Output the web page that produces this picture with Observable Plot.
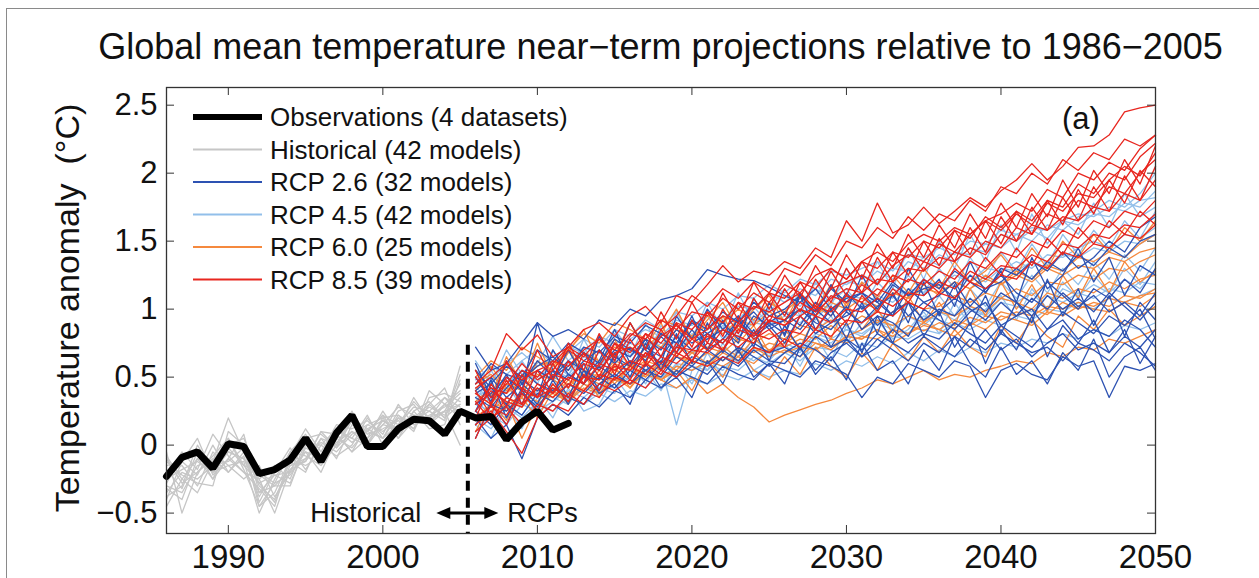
<!DOCTYPE html>
<html><head><meta charset="utf-8">
<script src="https://cdn.jsdelivr.net/npm/d3@7"></script>
<script src="https://cdn.jsdelivr.net/npm/@observablehq/plot@0.6"></script>
<style>
html,body{margin:0;padding:0;background:#fff;}
#wrap{position:relative;width:1259px;height:578px;overflow:hidden;font-family:"Liberation Sans",Arial,sans-serif;}
#border{position:absolute;left:6px;top:8px;width:1400px;height:800px;border-left:1.5px solid #8a8a8a;border-top:1.5px solid #8a8a8a;}
#title{position:absolute;left:31px;top:29px;width:1259px;text-align:center;font-size:36px;line-height:36px;color:#111;white-space:nowrap;}
#chart{position:absolute;left:0;top:72px;}
</style></head>
<body>
<div id="wrap"><div id="border"></div>
<div id="title">Global mean temperature near−term projections relative to 1986−2005</div>
<div id="chart"></div></div>
<script>
// ---- data ----
const histStart = 1986;
const rcpStart = 2006;
const xTicks = [1990, 2000, 2010, 2020, 2030, 2040, 2050];
const yTicks = [-0.5, 0, 0.5, 1, 1.5, 2, 2.5];
const legendLabels = ["Observations (4 datasets)", "Historical (42 models)", "RCP 2.6 (32 models)", "RCP 4.5 (42 models)", "RCP 6.0 (25 models)", "RCP 8.5 (39 models)"];
const dividerYear = 2005.5;

const observations = [-0.23,-0.09,-0.05,-0.17,0.01,-0.01,-0.21,-0.18,-0.11,0.05,-0.12,0.09,0.22,-0.01,-0.01,0.12,0.19,0.18,0.08,0.25,0.20,0.21,0.04,0.17,0.25,0.11,0.16];

const historical = [
 [-0.25,-0.18,-0.12,-0.2,-0.05,-0.1,-0.35,-0.3,-0.18,-0.05,-0.1,0.02,0.1,0.05,0.15,0.12,0.22,0.2,0.3,0.25],
 [-0.1,-0.28,-0.2,-0.08,0.05,-0.15,-0.28,-0.22,-0.2,-0.1,0.02,-0.05,0.08,0.15,0.1,0.2,0.18,0.28,0.22,0.35],
 [-0.35,-0.2,-0.25,-0.15,-0.12,-0.02,-0.45,-0.35,-0.1,-0.15,-0.08,0.05,-0.02,0.12,0.18,0.1,0.25,0.32,0.2,0.3],
 [-0.15,-0.12,0.05,-0.22,-0.1,-0.2,-0.25,-0.15,-0.25,0.02,-0.12,0.1,0.05,0.0,0.2,0.22,0.15,0.2,0.35,0.28],
 [-0.3,-0.35,-0.15,-0.12,0.2,-0.05,-0.3,-0.4,-0.12,-0.2,0.05,-0.1,0.15,0.1,0.05,0.25,0.3,0.15,0.25,0.45],
 [-0.2,-0.15,-0.3,-0.05,-0.15,-0.12,-0.5,-0.25,-0.05,-0.08,-0.15,0.0,0.2,0.08,0.12,0.18,0.12,0.4,0.3,0.2],
 [-0.45,-0.25,-0.1,-0.25,0.0,0.05,-0.22,-0.3,-0.3,0.0,0.0,-0.08,0.0,0.2,0.05,0.15,0.28,0.25,0.18,0.58],
 [-0.05,-0.5,-0.2,-0.1,-0.2,-0.08,-0.38,-0.18,-0.15,-0.12,0.1,0.08,-0.05,0.05,0.25,0.08,0.2,0.3,0.42,0.15],
 [-0.22,-0.05,-0.18,0.08,-0.08,-0.2,-0.32,-0.45,-0.08,0.12,-0.05,0.15,0.12,0.18,0.08,0.3,0.15,0.22,0.28,0.38],
 [-0.38,-0.3,0.0,-0.18,-0.02,-0.15,-0.2,-0.28,-0.22,-0.05,-0.2,0.05,0.25,0.02,0.18,0.12,0.35,0.18,0.25,0.0],
 [-0.12,-0.22,-0.28,-0.3,0.1,0.0,-0.42,-0.2,-0.02,-0.18,0.0,0.12,0.05,0.22,0.0,0.2,0.1,0.35,0.38,0.32],
 [-0.28,-0.08,-0.08,-0.2,-0.15,-0.25,-0.15,-0.38,-0.2,0.05,0.08,-0.02,0.18,0.1,0.22,0.05,0.25,0.12,0.15,0.48],
 [-0.18,-0.32,-0.05,-0.25,-0.1,0.08,-0.35,-0.22,-0.28,-0.02,-0.08,0.08,-0.05,0.15,0.2,0.05,0.18,0.25,0.35,0.22],
 [-0.4,-0.12,-0.22,0.0,-0.2,-0.05,-0.28,-0.42,-0.15,-0.1,0.1,-0.02,0.1,0.0,0.15,0.28,0.22,0.15,0.3,0.4],
 [-0.08,-0.25,-0.35,-0.12,0.05,-0.18,-0.45,-0.28,-0.05,0.08,-0.1,0.12,0.02,0.1,0.22,0.15,0.32,0.2,0.25,0.3],
 [-0.32,-0.4,-0.1,-0.15,-0.05,-0.1,-0.25,-0.5,-0.18,-0.12,0.05,0.0,0.2,0.12,0.05,0.22,0.12,0.3,0.2,0.52]
];

const rcp26 = [
 [0.72,0.55,0.6,0.75,0.9, 0.8,0.85,0.78,0.92,0.88, 1.0,0.95,1.07,1.1,1.15, 1.29,1.25,1.22,1.21,1.16, 1.1,1.05,1.15,1.0,1.08, 1.12,1.05,1.2,1.1,1.15, 1.18,1.08,1.25,1.15,1.2, 1.3,1.22,1.35,1.28,1.4, 1.32,1.45,1.38,1.5,1.55],
 [0.2,0.05,0.15,-0.1,0.2, 0.3,0.22,0.35,0.28,0.4, 0.35,0.48,0.42,0.55,0.5, 0.45,0.58,0.52,0.48,0.6, 0.55,0.5,0.62,0.58,0.52, 0.35,0.5,0.45,0.6,0.55, 0.5,0.62,0.58,0.35,0.55, 0.6,0.52,0.48,0.65,0.58, 0.62,0.35,0.58,0.55,0.6],
 [0.4,0.5,0.35,0.45,0.62, 0.5,0.58,0.68,0.55,0.7, 0.65,0.78,0.7,0.85,0.75, 0.82,0.9,0.78,0.95,0.88, 0.92,0.85,1.0,0.9,0.95, 1.02,0.88,0.98,1.05,0.92, 1.0,0.95,1.08,0.98,1.12, 1.05,0.95,1.1,1.0,1.08, 0.98,1.12,1.02,0.92,1.05],
 [0.3,0.38,0.5,0.4,0.9, 0.55,0.48,0.62,0.7,0.6, 0.72,0.62,0.8,0.68,0.85, 0.7,0.78,0.92,0.8,0.88, 0.75,0.95,0.82,0.9,1.02, 0.85,0.95,0.9,0.8,1.0, 0.92,0.85,0.98,1.05,0.88, 0.95,1.0,0.85,0.98,0.9, 0.82,0.95,0.88,1.0,0.78],
 [0.25,0.15,0.3,0.22,0.38, 0.32,0.45,0.38,0.5,0.42, 0.55,0.48,0.6,0.52,0.65, 0.6,0.7,0.62,0.75,0.68, 0.72,0.65,0.8,0.72,0.78, 0.7,0.82,0.75,0.68,0.8, 0.72,0.65,0.78,0.7,0.82, 0.75,0.68,0.72,0.62,0.75, 0.7,0.62,0.75,0.68,0.58],
 [0.45,0.6,0.52,0.48,0.58, 0.65,0.55,0.72,0.68,0.8, 0.75,0.88,0.82,0.75,0.92, 0.85,0.98,0.9,1.05,0.95, 1.0,1.1,0.98,1.15,1.05, 1.12,1.0,1.18,1.1,1.22, 1.15,1.28,1.2,1.12,1.3, 1.25,1.35,1.28,1.42,1.3, 1.38,1.5,1.42,1.6,1.68],
 [0.35,0.28,0.42,0.55,0.45, 0.4,0.52,0.45,0.58,0.5, 0.62,0.55,0.5,0.65,0.58, 0.7,0.62,0.72,0.65,0.58, 0.68,0.75,0.7,0.62,0.78, 0.65,0.72,0.85,0.75,0.82, 0.78,0.9,0.82,0.75,0.88, 0.8,0.72,0.85,0.92,0.78, 0.85,0.8,0.92,0.85,0.72],
 [0.55,0.42,0.3,0.48,0.4, 0.5,0.62,0.55,0.48,0.65, 0.58,0.72,0.65,0.8,0.7, 0.78,0.85,0.95,0.82,0.9, 0.98,0.88,1.05,0.95,1.12, 1.0,1.08,0.95,1.15,1.05, 1.1,1.2,1.02,1.15,1.25, 1.12,1.05,1.2,1.1,1.0, 1.15,1.08,1.22,1.12,1.3],
 [0.15,0.3,0.25,0.38,0.28, 0.42,0.35,0.3,0.45,0.52, 0.45,0.55,0.62,0.5,0.58, 0.52,0.65,0.58,0.7,0.62, 0.6,0.72,0.55,0.68,0.75, 0.65,0.78,0.7,0.62,0.75, 0.68,0.8,0.72,0.85,0.7, 0.78,0.65,0.75,0.82,0.7, 0.75,0.68,0.8,0.72,0.85],
 [0.38,0.45,0.58,0.5,0.7, 0.62,0.75,0.68,0.6,0.78, 0.7,0.65,0.82,0.75,0.9, 0.82,0.75,0.88,0.98,0.85, 0.92,1.0,0.9,0.85,0.98, 0.9,1.02,1.1,0.95,1.05, 0.98,1.08,1.0,0.92,1.05, 0.95,1.08,1.0,1.12,1.02, 1.1,0.98,1.05,0.95,1.12],
 [0.6,0.35,0.52,0.3,0.55, 0.48,0.7,0.5,0.62,0.85, 0.6,0.78,0.55,0.72,0.95, 0.7,0.92,0.68,0.85,0.62, 0.88,0.7,0.95,0.72,0.9, 0.68,0.95,0.75,1.05,0.8, 0.98,0.72,0.9,0.6,0.85, 0.7,0.95,0.65,0.88,0.75, 0.92,0.68,0.85,0.6,0.8],
 [0.25,0.48,0.2,0.42,0.3, 0.55,0.35,0.6,0.4,0.68, 0.5,0.75,0.55,0.82,0.6, 0.9,0.68,0.95,0.72,1.05, 0.8,1.1,0.85,1.0,0.78, 1.05,0.82,1.12,0.9,1.2, 0.95,1.18,0.88,1.1,0.82, 1.05,0.9,1.22,0.95,1.15, 0.88,1.1,0.8,1.05,0.92],
 [0.05,0.3,0.15,0.4,0.25, 0.48,0.3,0.55,0.38,0.45, 0.3,0.6,0.42,0.5,0.35, 0.62,0.45,0.7,0.5,0.6, 0.45,0.72,0.52,0.65,0.48, 0.75,0.55,0.62,0.45,0.7, 0.55,0.8,0.6,0.5,0.72, 0.52,0.62,0.45,0.68,0.55, 0.78,0.5,0.65,0.72,0.55],
 [0.5,0.32,0.62,0.45,0.35, 0.7,0.52,0.45,0.8,0.62, 0.9,0.7,0.6,0.95,0.78, 1.0,0.85,0.75,1.08,0.9, 0.82,1.12,0.95,1.18,0.98, 1.25,1.05,0.95,1.3,1.1, 1.22,1.02,1.35,1.12,1.28, 1.05,1.38,1.15,1.25,1.45, 1.2,1.38,1.1,1.32,1.25]
];

const rcp45 = [
 [0.4,0.32,0.5,0.45,0.55, 0.48,0.6,0.55,0.68,0.62, 0.75,0.7,0.82,0.78,0.9, 0.85,0.95,0.92,1.05,0.98, 1.1,1.02,1.15,1.08,1.2, 1.18,1.28,1.22,1.35,1.3, 1.4,1.35,1.45,1.42,1.55, 1.5,1.58,1.52,1.65,1.62, 1.7,1.68,1.78,1.75,1.87],
 [0.25,0.35,0.3,0.22,0.38, 0.35,0.3,0.45,0.4,0.52, 0.48,0.42,0.58,0.15,0.55, 0.6,0.55,0.68,0.62,0.7, 0.72,0.68,0.8,0.75,0.85, 0.82,0.9,0.85,0.95,0.88, 0.98,0.92,1.02,0.96,1.08, 1.05,1.12,1.0,1.15,1.1, 1.18,1.12,1.22,1.15,1.28],
 [0.55,0.48,0.6,0.68,0.58, 0.65,0.72,0.68,0.8,0.75, 0.78,0.85,0.8,0.92,0.88, 0.95,0.9,1.02,1.0,1.12, 1.05,1.15,1.1,1.22,1.18, 1.25,1.2,1.3,1.28,1.38, 1.32,1.42,1.4,1.48,1.45, 1.55,1.5,1.62,1.58,1.68, 1.72,1.8,1.75,1.85,2.0],
 [0.1,0.22,0.15,0.3,0.25, 0.32,0.4,0.35,0.45,0.42, 0.5,0.55,0.48,0.6,0.58, 0.55,0.65,0.62,0.7,0.68, 0.75,0.7,0.82,0.78,0.85, 0.8,0.9,0.88,0.82,0.95, 0.92,0.88,1.0,0.95,1.05, 1.02,0.98,1.1,1.05,1.12, 1.08,1.15,1.12,1.2,1.18],
 [0.35,0.42,0.38,0.52,0.48, 0.55,0.5,0.62,0.58,0.7, 0.65,0.75,0.72,0.68,0.8, 0.78,0.85,0.8,0.9,0.88, 0.95,0.9,1.0,0.98,1.08, 1.02,1.1,1.05,1.15,1.12, 1.2,1.15,1.25,1.2,1.3, 1.28,1.35,1.3,1.4,1.38, 1.45,1.42,1.5,1.48,1.55],
 [0.3,0.25,0.2,0.35,0.3, 0.4,0.35,0.3,0.42,0.48, 0.45,0.52,0.5,0.58,0.55, 0.62,0.58,0.55,0.65,0.6, 0.68,0.62,0.72,0.7,0.65, 0.75,0.72,0.8,0.78,0.85, 0.82,0.9,0.85,0.92,0.88, 0.95,0.92,1.0,0.98,1.05, 1.0,1.08,1.05,1.1,1.15],
 [0.48,0.58,0.52,0.62,0.7, 0.6,0.68,0.78,0.72,0.85, 0.8,0.92,0.85,0.98,0.95, 1.05,1.0,1.1,1.08,1.18, 1.12,1.22,1.18,1.28,1.25, 1.3,1.35,1.28,1.4,1.38, 1.45,1.4,1.5,1.48,1.58, 1.55,1.6,1.58,1.65,1.7, 1.68,1.75,1.72,1.8,1.82],
 [0.2,0.12,0.28,0.2,0.32, 0.25,0.35,0.3,0.38,0.32, 0.4,0.36,0.45,0.42,0.48, 0.45,0.52,0.48,0.55,0.5, 0.55,0.52,0.6,0.55,0.62, 0.58,0.65,0.6,0.68,0.62, 0.7,0.65,0.72,0.68,0.75, 0.72,0.78,0.75,0.82,0.78, 0.85,0.8,0.88,0.85,0.9],
 [0.42,0.35,0.45,0.55,0.5, 0.58,0.52,0.65,0.6,0.55, 0.7,0.65,0.75,0.72,0.82, 0.78,0.88,0.82,0.92,0.9, 0.98,0.95,1.05,1.0,1.1, 1.08,1.02,1.15,1.1,1.2, 1.18,1.25,1.2,1.3,1.28, 1.35,1.3,1.4,1.38,1.45, 1.5,1.45,1.55,1.52,1.6],
 [0.3,0.55,0.38,0.62,0.45, 0.7,0.5,0.78,0.58,0.82, 0.65,0.9,0.7,0.98,0.78, 1.05,0.85,1.12,0.9,1.0, 1.15,0.95,1.2,1.02,1.3, 1.1,1.35,1.15,1.45,1.22, 1.5,1.3,1.55,1.35,1.62, 1.42,1.7,1.48,1.65,1.55, 1.78,1.6,1.85,1.68,1.75],
 [0.15,0.05,0.28,0.12,0.35, 0.2,0.42,0.25,0.3,0.5, 0.35,0.55,0.4,0.6,0.45, 0.68,0.5,0.72,0.55,0.62, 0.75,0.58,0.8,0.62,0.88, 0.7,0.92,0.78,0.85,0.98, 0.82,1.05,0.88,1.0,1.1, 0.92,1.15,1.0,1.2,1.08, 1.25,1.12,1.3,1.18,1.35],
 [0.62,0.45,0.7,0.52,0.6, 0.8,0.62,0.72,0.55,0.85, 0.7,0.62,0.88,0.72,0.8, 0.95,0.78,0.85,1.02,0.88, 0.98,1.12,0.92,1.05,1.15, 1.0,1.2,1.08,1.25,1.12, 1.3,1.15,1.38,1.22,1.42, 1.28,1.48,1.32,1.55,1.4, 1.58,1.45,1.65,1.52,1.72],
 [0.35,0.2,0.45,0.28,0.4, 0.5,0.32,0.55,0.42,0.38, 0.6,0.45,0.65,0.5,0.7, 0.55,0.75,0.6,0.8,0.65, 0.88,0.7,0.82,0.95,0.75, 0.9,1.0,0.85,1.05,0.92, 1.1,0.95,1.15,1.02,1.2, 1.08,1.25,1.12,1.3,1.18, 1.35,1.22,1.4,1.28,1.45]
];

const rcp60 = [
 [0.3,0.38,0.25,0.35,0.2, 0.4,0.32,0.45,0.38,0.5, 0.42,0.55,0.48,0.42,0.5, 0.38,0.45,0.35,0.28,0.17, 0.22,0.26,0.3,0.33,0.38, 0.42,0.48,0.45,0.5,0.55, 0.48,0.52,0.5,0.55,0.58, 0.62,0.6,0.68,0.65,0.72, 0.7,0.78,0.75,0.8,0.85],
 [0.5,0.62,0.55,0.72,0.65, 0.58,0.7,0.82,0.75,0.9, 0.85,0.78,0.92,0.88,0.8, 0.95,0.9,1.0,0.92,1.05, 0.98,1.08,1.02,0.95,1.1, 1.05,1.0,1.12,1.08,1.18, 1.1,1.2,1.15,1.25,1.18, 1.28,1.22,1.32,1.28,1.38, 1.35,1.42,1.38,1.48,1.55],
 [0.15,0.25,0.35,0.28,0.42, 0.35,0.48,0.4,0.55,0.45, 0.58,0.5,0.62,0.55,0.68, 0.6,0.72,0.65,0.78,0.7, 0.75,0.82,0.78,0.88,0.8, 0.85,0.92,0.88,0.95,0.9, 0.98,0.95,1.02,0.98,1.08, 1.05,1.0,1.12,1.08,1.15, 1.12,1.2,1.15,1.22,1.25],
 [0.38,0.3,0.45,0.4,0.52, 0.48,0.42,0.55,0.5,0.62, 0.58,0.65,0.6,0.72,0.68, 0.72,0.68,0.78,0.75,0.82, 0.78,0.88,0.85,0.92,0.88, 0.95,0.9,0.98,1.05,1.0, 1.02,1.1,1.05,1.12,1.08, 1.15,1.1,1.2,1.18,1.25, 1.22,1.3,1.28,1.35,1.4],
 [0.25,0.18,0.32,0.05,0.3, 0.38,0.32,0.42,0.38,0.48, 0.45,0.52,0.48,0.58,0.55, 0.62,0.58,0.65,0.6,0.7, 0.68,0.72,0.7,0.78,0.75, 0.8,0.78,0.85,0.82,0.88, 0.85,0.92,0.88,0.95,0.92, 0.98,0.95,1.02,1.0,1.05, 1.02,1.08,1.05,1.1,1.12],
 [0.45,0.52,0.4,0.5,0.58, 0.62,0.55,0.68,0.62,0.72, 0.7,0.78,0.72,0.85,0.8, 0.88,0.82,0.92,0.88,0.98, 0.92,1.0,0.95,1.05,1.0, 1.08,1.02,1.12,1.08,1.15, 1.12,1.2,1.15,1.22,1.18, 1.25,1.2,1.3,1.25,1.32, 1.3,1.38,1.35,1.42,1.45],
 [0.32,0.42,0.38,0.48,0.4, 0.5,0.45,0.52,0.48,0.6, 0.55,0.62,0.58,0.65,0.6, 0.68,0.62,0.72,0.68,0.75, 0.72,0.78,0.75,0.7,0.8, 0.78,0.85,0.8,0.88,0.84, 0.9,0.86,0.94,0.9,0.98, 0.95,1.0,0.96,1.05,1.0, 1.05,1.02,1.1,1.08,1.15],
 [0.2,0.3,0.28,0.38,0.32, 0.42,0.38,0.5,0.45,0.55, 0.5,0.6,0.55,0.65,0.62, 0.58,0.68,0.62,0.72,0.65, 0.7,0.65,0.75,0.72,0.8, 0.78,0.85,0.75,0.82,0.9, 0.85,0.8,0.9,0.85,0.95, 0.92,0.88,0.98,0.95,1.02, 1.0,0.98,1.05,1.02,1.1],
 [0.55,0.35,0.65,0.45,0.75, 0.5,0.68,0.85,0.6,0.78, 0.55,0.72,0.9,0.65,0.8, 0.7,0.95,0.75,0.88,0.68, 0.85,0.72,0.95,0.78,1.05, 0.85,1.0,0.82,1.1,0.9, 1.05,0.88,1.15,0.95,1.2, 1.0,1.18,0.98,1.25,1.08, 1.3,1.12,1.35,1.2,1.28],
 [0.1,0.32,0.18,0.4,0.25, 0.45,0.3,0.52,0.35,0.58, 0.42,0.62,0.48,0.55,0.4, 0.62,0.5,0.7,0.55,0.48, 0.65,0.52,0.72,0.58,0.5, 0.68,0.55,0.75,0.62,0.8, 0.68,0.85,0.72,0.65,0.88, 0.75,0.92,0.8,0.72,0.95, 0.85,1.0,0.88,0.95,1.02],
 [0.4,0.58,0.42,0.35,0.62, 0.55,0.72,0.5,0.8,0.65, 0.9,0.72,0.82,1.0,0.78, 0.92,1.05,0.85,1.0,1.1, 0.9,1.12,1.0,1.18,1.02, 1.2,1.08,1.25,1.12,1.3, 1.15,1.35,1.2,1.28,1.4, 1.25,1.45,1.3,1.5,1.38, 1.55,1.42,1.6,1.5,1.65]
];

const rcp85 = [
 [0.45,0.55,0.82,0.7,0.81, 0.65,0.72,0.85,0.9,0.8, 0.95,1.02,0.9,1.1,1.05, 1.18,1.32,1.2,1.28,1.25, 1.35,1.3,1.45,1.38,1.65, 1.5,1.78,1.56,1.62,1.75, 1.63,1.72,1.82,1.75,1.87, 1.95,2.07,1.95,2.05,2.19, 2.2,2.28,2.45,2.48,2.5],
 [0.3,0.42,0.38,0.55,0.5, 0.62,0.58,0.7,0.78,0.65, 0.8,0.9,0.85,0.95,1.1, 1.02,1.15,1.08,1.2,1.12, 1.3,1.25,1.4,1.32,1.5, 1.45,1.6,1.52,1.68,1.58, 1.7,1.65,1.8,1.72,1.9, 1.85,2.0,1.92,2.1,2.02, 2.15,2.1,2.25,2.2,2.28],
 [0.15,0.25,0.1,-0.06,0.2, 0.3,0.25,0.4,0.35,0.5, 0.45,0.6,0.52,0.68,0.62, 0.75,0.7,0.85,0.8,0.92, 0.88,1.0,0.95,1.1,1.05, 1.18,1.1,1.25,1.2,1.35, 1.3,1.42,1.38,1.5,1.45, 1.6,1.55,1.7,1.65,1.8, 1.75,1.9,1.85,2.0,2.1],
 [0.5,0.35,0.45,0.6,0.48, 0.55,0.7,0.62,0.58,0.75, 0.68,0.82,0.75,0.9,0.85, 0.98,0.9,1.05,1.0,1.12, 1.08,1.2,1.15,1.3,1.22, 1.35,1.3,1.42,1.38,1.5, 1.45,1.58,1.52,1.68,1.6, 1.72,1.65,1.8,1.75,1.92, 1.85,2.0,1.95,2.12,2.22],
 [0.25,0.4,0.32,0.28,0.45, 0.38,0.5,0.45,0.6,0.55, 0.62,0.58,0.72,0.65,0.78, 0.7,0.85,0.8,0.75,0.92, 0.88,0.95,1.02,0.98,1.1, 1.05,1.15,1.1,1.22,1.18, 1.28,1.22,1.35,1.3,1.42, 1.38,1.5,1.45,1.58,1.52, 1.65,1.6,1.72,1.68,1.8],
 [0.1,0.2,0.28,0.15,0.3, 0.25,0.38,0.3,0.45,0.4, 0.48,0.42,0.55,0.5,0.62, 0.58,0.65,0.6,0.72,0.68, 0.78,0.72,0.85,0.8,0.92, 0.9,0.98,0.95,1.05,1.0, 1.12,1.08,1.2,1.15,1.25, 1.22,1.35,1.3,1.42,1.38, 1.48,1.45,1.55,1.52,1.62],
 [0.38,0.3,0.5,0.42,0.35, 0.52,0.48,0.6,0.55,0.68, 0.72,0.65,0.8,0.88,0.78, 0.85,0.95,0.9,1.02,0.98, 1.05,1.12,1.0,1.15,1.2, 1.25,1.18,1.32,1.4,1.35, 1.48,1.42,1.55,1.65,1.58, 1.7,1.62,1.78,1.72,1.85, 1.82,1.95,2.05,1.98,2.15],
 [0.2,0.28,0.22,0.4,0.35, 0.42,0.35,0.5,0.48,0.58, 0.55,0.68,0.6,0.72,0.7, 0.8,0.75,0.88,0.82,0.95, 0.92,1.05,0.98,1.08,1.15, 1.12,1.22,1.2,1.3,1.28, 1.38,1.35,1.45,1.4,1.55, 1.5,1.62,1.58,1.68,1.65, 1.75,1.72,1.85,1.8,1.95],
 [0.42,0.5,0.6,0.48,0.55, 0.6,0.72,0.65,0.78,0.7, 0.82,0.78,0.92,0.85,0.98, 0.95,1.08,1.0,1.12,1.05, 1.18,1.12,1.25,1.3,1.22, 1.35,1.42,1.35,1.48,1.55, 1.5,1.6,1.55,1.65,1.7, 1.78,1.72,1.88,1.82,2.0, 1.95,2.08,2.02,2.18,2.28],
 [0.32,0.18,0.35,0.3,0.42, 0.35,0.45,0.4,0.52,0.48, 0.58,0.52,0.65,0.6,0.7, 0.68,0.78,0.72,0.82,0.78, 0.85,0.82,0.95,0.9,1.0, 0.98,1.08,1.02,1.12,1.1, 1.2,1.15,1.28,1.22,1.32, 1.3,1.4,1.35,1.48,1.45, 1.55,1.52,1.62,1.6,1.7],
 [0.55,0.3,0.62,0.4,0.7, 0.48,0.75,0.55,0.82,0.62, 0.9,0.7,0.98,0.78,1.05, 0.85,1.12,0.92,1.2,1.0, 1.25,1.08,1.32,1.15,1.4, 1.22,1.48,1.3,1.55,1.38, 1.62,1.45,1.7,1.52,1.78, 1.6,1.85,1.68,1.95,1.75, 2.02,1.85,2.1,1.92,2.2],
 [0.2,0.45,0.28,0.52,0.35, 0.6,0.42,0.68,0.5,0.75, 0.58,0.82,0.65,0.9,0.72, 0.98,0.8,1.05,0.88,1.12, 0.95,1.2,1.02,1.28,1.1, 1.35,1.18,1.42,1.25,1.5, 1.32,1.58,1.4,1.65,1.48, 1.72,1.55,1.8,1.62,1.88, 1.7,1.95,1.78,2.02,1.9],
 [0.4,0.22,0.48,0.3,0.55, 0.38,0.62,0.45,0.7,0.52, 0.78,0.6,0.85,0.68,0.92, 0.75,1.0,0.82,1.08,0.9, 1.15,0.98,1.22,1.05,1.3, 1.12,1.38,1.2,1.45,1.28, 1.52,1.35,1.6,1.42,1.68, 1.5,1.75,1.58,1.82,1.65, 1.9,1.72,1.98,1.8,2.05],
 [0.05,0.3,0.15,0.38,0.25, 0.45,0.32,0.52,0.4,0.6, 0.48,0.68,0.55,0.75,0.62, 0.82,0.7,0.9,0.78,0.85, 0.72,0.95,0.85,1.02,0.9, 1.1,0.98,1.15,1.05,1.22, 1.12,1.3,1.2,1.38,1.25, 1.45,1.32,1.52,1.4,1.6, 1.48,1.65,1.55,1.72,1.62]
];

const colors = {obs: "#000000", hist: "#c6c6c6", rcp26: "#2d52b2", rcp45: "#92bfea", rcp60: "#f5893e", rcp85: "#e8261f"};

// ---- build tables ----
function toRows(series, start, group) {
  const out = [];
  series.forEach((arr, k) => arr.forEach((v, i) => out.push({id: group + "-" + k, year: start + i, value: v})));
  return out;
}
const histRows = toRows(historical, histStart, "hist");
const r26 = toRows(rcp26, rcpStart, "r26");
const r45 = toRows(rcp45, rcpStart, "r45");
const r60 = toRows(rcp60, rcpStart, "r60");
const r85 = toRows(rcp85, rcpStart, "r85");
const obsRows = observations.map((v, i) => ({year: histStart + i, value: v}));

const W = 1259, H = 506, mL = 166, mR = 104, mT = 15, mB = 45;
const pw = W - mL - mR, ph = H - mT - mB;
const lw = 1.3;
const fmt = d => (d < 0 ? "\u2212" : "") + Math.abs(d);

const chart = Plot.plot({
  width: W, height: H, marginLeft: mL, marginRight: mR, marginTop: mT, marginBottom: mB,
  x: {domain: [1986, 2050]},
  y: {domain: [-0.65, 2.63]},
  style: {fontFamily: "'Liberation Sans', Arial, sans-serif", background: "transparent", color: "#111", overflow: "visible"},
  marks: [
    Plot.lineY(histRows, {x: "year", y: "value", z: "id", stroke: colors.hist, strokeWidth: lw}),
    Plot.lineY(r45, {x: "year", y: "value", z: "id", stroke: colors.rcp45, strokeWidth: lw}),
    Plot.lineY(r60, {x: "year", y: "value", z: "id", stroke: colors.rcp60, strokeWidth: lw}),
    Plot.lineY(r26, {x: "year", y: "value", z: "id", stroke: colors.rcp26, strokeWidth: lw}),
    Plot.lineY(r85, {x: "year", y: "value", z: "id", stroke: colors.rcp85, strokeWidth: lw}),
    Plot.lineY(obsRows, {x: "year", y: "value", stroke: colors.obs, strokeWidth: 7, strokeLinejoin: "miter"}),
    Plot.ruleX([dividerYear], {y1: 0.735, y2: -0.65, stroke: "#000", strokeWidth: 4, strokeDasharray: "10,7"}),
    Plot.frame({stroke: "#333", strokeWidth: 1.3}),
    Plot.tickY(yTicks, {y: d => d, insetRight: pw - 8, stroke: "#333"}),
    Plot.tickY(yTicks, {y: d => d, insetLeft: pw - 8, stroke: "#333"}),
    Plot.tickX(xTicks, {x: d => d, insetTop: ph - 8, stroke: "#333"}),
    Plot.tickX(xTicks, {x: d => d, insetBottom: ph - 8, stroke: "#333"}),
    Plot.axisX(xTicks, {tickSize: 0, tickPadding: 11, fontSize: 33, tickFormat: d => String(d), label: null}),
    Plot.axisY(yTicks, {tickSize: 0, tickPadding: 9, fontSize: 31, tickFormat: fmt, label: null}),
    Plot.text(["Temperature anomaly  (\u00B0C)"], {text: d => d, frameAnchor: "left", dx: -88, dy: -2.5, rotate: -90, fontSize: 34, lineAnchor: "bottom", textAnchor: "middle", fill: "#111"})
  ]
});
document.getElementById("chart").appendChild(chart);

// ---- annotations: legend, (a), arrow ----
const svg = d3.select(chart);
const sx = chart.scale("x");
const leg = svg.append("g").attr("font-family", "'Liberation Sans', Arial, sans-serif").attr("font-size", 26).attr("fill", "#111").attr("text-anchor", "start");
const legColors = [colors.obs, colors.hist, colors.rcp26, colors.rcp45, colors.rcp60, colors.rcp85];
legendLabels.forEach((t, i) => {
  const y = 45 + i * 32.5;
  leg.append("line").attr("x1", 193).attr("x2", 262).attr("y1", y).attr("y2", y)
    .attr("stroke", legColors[i]).attr("stroke-width", i === 0 ? 6 : 2);
  leg.append("text").attr("x", 270).attr("y", y).attr("dy", "0.35em").attr("text-anchor", "start").text(t);
});
svg.append("text").attr("x", 1081).attr("y", 46).attr("dy", "0.35em").attr("text-anchor", "middle")
  .attr("font-size", 31).attr("font-family", "'Liberation Sans', Arial, sans-serif").attr("fill", "#111").text("(a)");

const cx = sx.apply(dividerYear), ay = 441;
const ann = svg.append("g").attr("font-family", "'Liberation Sans', Arial, sans-serif").attr("font-size", 27).attr("fill", "#111");
ann.append("text").attr("x", cx - 46).attr("y", ay).attr("dy", "0.35em").attr("text-anchor", "end").text("Historical");
ann.append("text").attr("x", cx + 40).attr("y", ay).attr("dy", "0.35em").attr("text-anchor", "start").text("RCPs");
ann.append("line").attr("x1", cx - 24).attr("x2", cx + 24).attr("y1", ay).attr("y2", ay).attr("stroke", "#000").attr("stroke-width", 3);
ann.append("path").attr("d", `M${cx - 31},${ay} L${cx - 17},${ay - 6} L${cx - 17},${ay + 6} Z`).attr("fill", "#000");
ann.append("path").attr("d", `M${cx + 31},${ay} L${cx + 17},${ay - 6} L${cx + 17},${ay + 6} Z`).attr("fill", "#000");
</script>
</body></html>
